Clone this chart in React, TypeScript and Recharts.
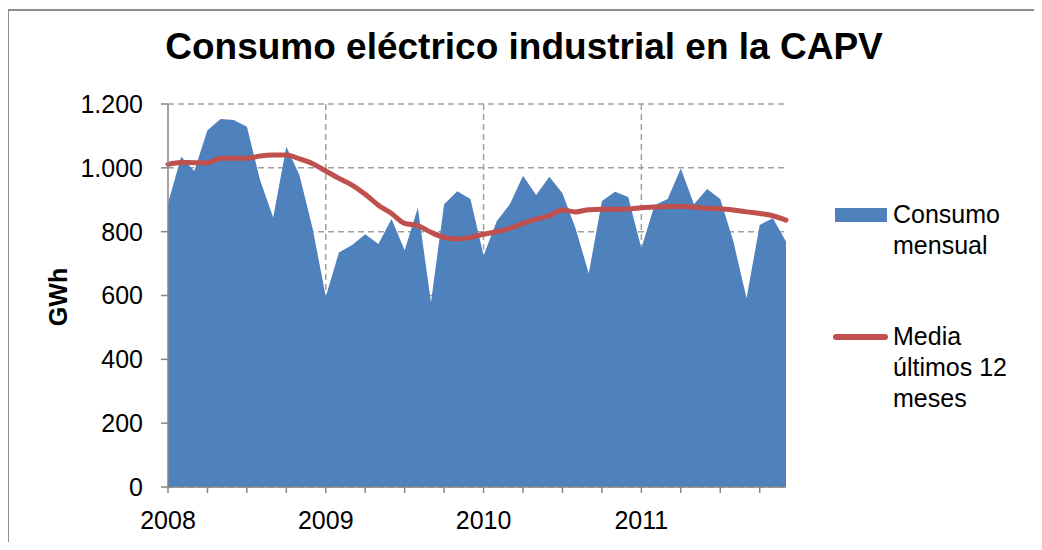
import { ComposedChart, Area, Line, XAxis, YAxis, CartesianGrid } from 'recharts'

const years = [2008, 2009, 2010, 2011]
const monthNames = ['01', '02', '03', '04', '05', '06', '07', '08', '09', '10', '11', '12']
const months = years.flatMap(y => monthNames.map(m => `${y}-${m}`))

// consumo mensual (GWh)
const consumo = [
  889, 1035, 990, 1118, 1153, 1150, 1129, 962, 844, 1066, 977, 810,
  596, 735, 758, 792, 761, 840, 742, 875, 579, 886, 927, 902,
  725, 833, 886, 975, 915, 972, 920, 810, 669, 896, 925, 909,
  748, 883, 902, 998, 886, 934, 902, 769, 591, 821, 842, 769,
]

// media últimos 12 meses
const media = [
  1011, 1017, 1016, 1016, 1030, 1030, 1030, 1037, 1040, 1040, 1028, 1013,
  990, 967, 946, 917, 883, 857, 826, 819, 798, 782, 777, 782,
  792, 800, 810, 826, 839, 850, 868, 862, 869, 870, 870, 871,
  875, 877, 879, 880, 877, 873, 872, 868, 862, 857, 850, 836,
]

const yTicks = [0, 200, 400, 600, 800, 1000, 1200]
const xTicks = [0, 3, 6, 9, 12, 15, 18, 21, 24, 27, 30, 33, 36, 39, 42, 45]
const yearIdx = [12, 24, 36]

const data = months.map((m, i) => ({ idx: i, month: m, consumo: consumo[i], media: media[i] }))

const FONT = '"Liberation Sans", Arial, sans-serif'
const AXIS = '#868686'

const fmtY = (v: number) =>
  v >= 1000 ? `${Math.floor(v / 1000)}.${String(v % 1000).padStart(3, '0')}` : String(v)

const fmtX = (v: number) => (v % 12 === 0 ? String(years[0] + v / 12) : '')

export default function App() {
  return (
    <div style={{ position: 'relative', width: 1042, height: 550, margin: -8, overflow: 'hidden', background: '#fff', fontFamily: FONT }}>
      <div style={{ position: 'absolute', left: 7, top: 9, width: 1100, height: 600, borderTop: '2px solid #8c8c8c', borderLeft: '2px solid #8c8c8c' }} />
      <div style={{ position: 'absolute', left: 0, width: 1048, top: 26, textAlign: 'center', fontSize: 37, fontWeight: 'bold', color: '#000', lineHeight: '41px' }}>
        Consumo eléctrico industrial en la CAPV
      </div>
      <div style={{ position: 'absolute', left: 58, top: 297, transform: 'translate(-50%, -50%) rotate(-90deg)', fontSize: 25, fontWeight: 'bold', color: '#000', whiteSpace: 'nowrap' }}>
        GWh
      </div>
      <ComposedChart
        width={1042}
        height={550}
        data={data}
        margin={{ top: 104, right: 256, bottom: 0, left: 0 }}
        style={{ position: 'absolute', left: 0, top: 0 }}
      >
        <CartesianGrid
          stroke="#a0a0a0"
          strokeWidth={1.5}
          strokeDasharray="6 4"
          verticalCoordinatesGenerator={(props: any) => {
            const { xAxis, offset } = props
            if (xAxis && typeof xAxis.scale === 'function') return yearIdx.map(i => xAxis.scale(i))
            return yearIdx.map(i => offset.left + (offset.width * i) / 47)
          }}
        />
        <XAxis
          dataKey="idx"
          type="number"
          domain={[0, 47]}
          ticks={xTicks}
          interval={0}
          height={63}
          tickFormatter={fmtX}
          stroke={AXIS}
          strokeWidth={1.5}
          tickSize={6}
          tickMargin={18}
          tick={{ fill: '#000', fontSize: 25, fontFamily: FONT }}
        />
        <YAxis
          domain={[0, 1200]}
          ticks={yTicks}
          width={168}
          tickFormatter={fmtY}
          stroke={AXIS}
          strokeWidth={1.5}
          tickSize={7}
          tickMargin={18}
          tick={{ fill: '#000', fontSize: 25, fontFamily: FONT }}
        />
        <Area
          type="linear"
          dataKey="consumo"
          fill="#4F81BD"
          fillOpacity={1}
          stroke="none"
          isAnimationActive={false}
        />
        <Line
          type="monotone"
          dataKey="media"
          stroke="#C0504D"
          strokeWidth={5}
          strokeLinecap="round"
          dot={false}
          activeDot={false}
          isAnimationActive={false}
        />
      </ComposedChart>
      <div style={{ position: 'absolute', left: 833, top: 199, fontSize: 25, color: '#000', lineHeight: '31px' }}>
        <div style={{ position: 'relative', paddingLeft: 60 }}>
          <div style={{ position: 'absolute', left: 2, top: 9, width: 52, height: 14, background: '#4F81BD' }} />
          Consumo<br />mensual
        </div>
        <div style={{ position: 'relative', paddingLeft: 60, marginTop: 60 }}>
          <div style={{ position: 'absolute', left: 0, top: 13, width: 55, height: 6, borderRadius: 3, background: '#C0504D' }} />
          Media<br />últimos 12<br />meses
        </div>
      </div>
    </div>
  )
}
